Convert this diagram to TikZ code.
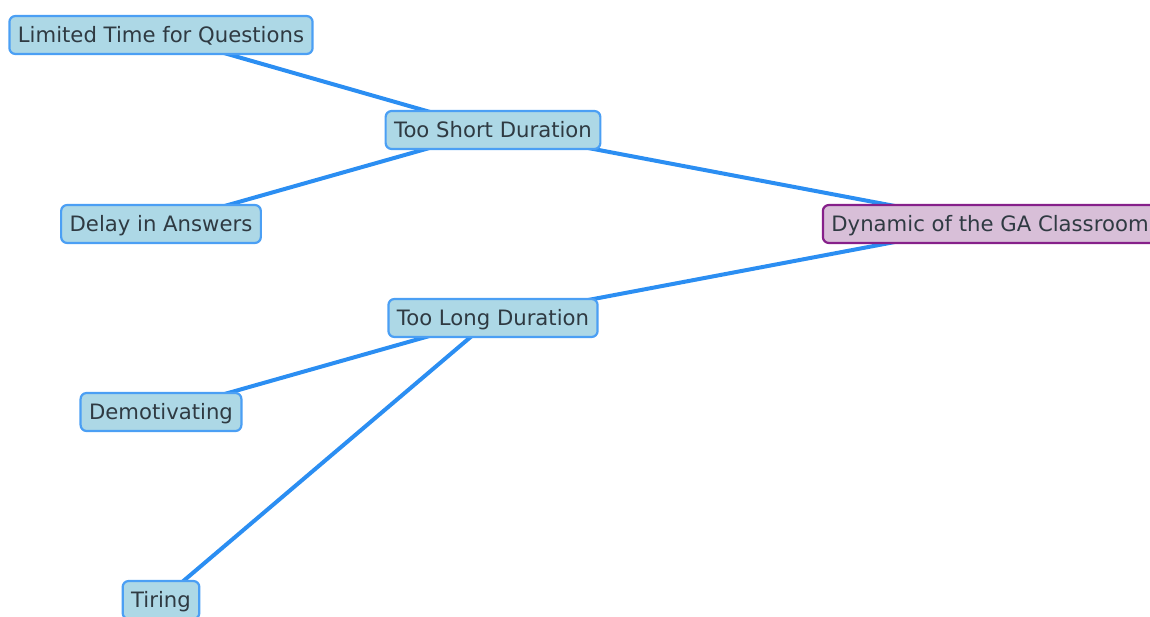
\documentclass[tikz,border=0pt]{standalone}
\usepackage{fontspec}
\setmainfont{DejaVu Sans}
\usetikzlibrary{backgrounds}

\definecolor{linkblue}{HTML}{2B8EF2}
\definecolor{boxblue}{HTML}{ADD8E6}
\definecolor{rootfill}{HTML}{D8BFD8}
\definecolor{rootline}{HTML}{86208A}
\definecolor{txt}{HTML}{2F3A42}

\tikzset{
  topic/.style={draw=linkblue!85, fill=boxblue, line width=2.2pt, rounded corners=6pt,
    text=txt, font=\fontsize{21.2}{25}\selectfont, inner xsep=8.5pt, inner ysep=0pt,
    minimum height=38pt, text height=17.5pt, text depth=2.5pt},
  root/.style={topic, draw=rootline, fill=rootfill},
  link/.style={draw=linkblue, line width=4pt}
}

\begin{document}
\begin{tikzpicture}[x=1pt, y=-1pt]
  \useasboundingbox (0,0) rectangle (1150,617);
  \clip (0,0) rectangle (1150,617);

  % main issue and its two branches
  \node[root]  (dynamic) at (990,224) {Dynamic of the GA Classroom};
  \node[topic] (short)   at (493,130) {Too Short Duration};
  \node[topic] (long)    at (493,318) {Too Long Duration};

  % leaves
  \node[topic] (limited) at (161,35)  {Limited Time for Questions};
  \node[topic] (delay)   at (161,224) {Delay in Answers};
  \node[topic] (demot)   at (161,412) {Demotivating};
  \node[topic] (tiring)  at (161,600) {Tiring};

  \begin{pgfonlayer}{background}
    \draw[link] (dynamic.center) -- (short.center);
    \draw[link] (dynamic.center) -- (long.center);
    \draw[link] (short.center) -- (limited.center);
    \draw[link] (short.center) -- (delay.center);
    \draw[link] (long.center) -- (demot.center);
    \draw[link] (long.center) -- (tiring.center);
  \end{pgfonlayer}
\end{tikzpicture}
\end{document}
